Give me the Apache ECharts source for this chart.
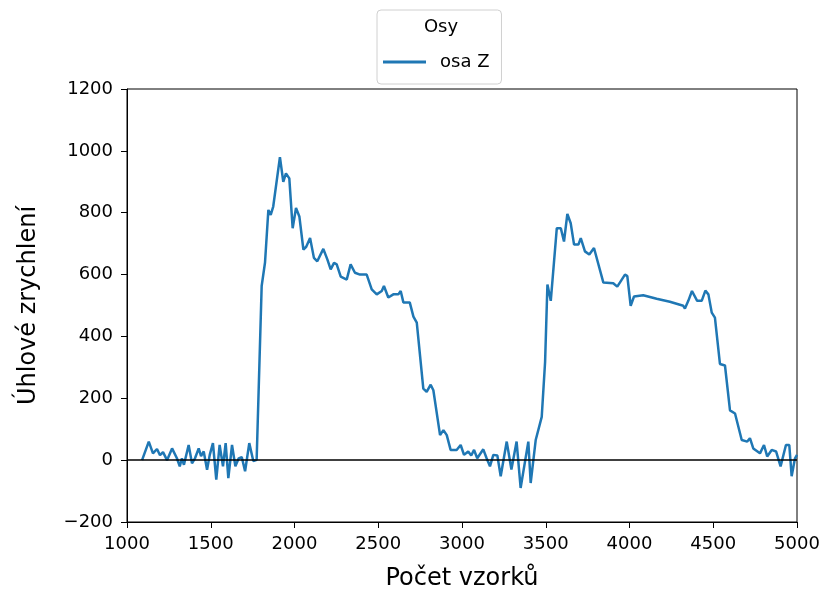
<!DOCTYPE html>
<html>
<head>
<meta charset="utf-8">
<script src="https://cdn.jsdelivr.net/npm/echarts@6/dist/echarts.min.js"></script>
<style>html,body{margin:0;padding:0;background:#fff}#c{width:824px;height:596px}</style>
</head>
<body>
<div id="c"></div>
<script>
const xValues = [1090,1130,1155,1179,1197,1215,1239,1269,1298,1315,1328,1340,1368,1388,1406,1428,1442,1458,1478,1494,1513,1533,1553,1573,1589,1605,1627,1647,1667,1685,1705,1730,1754,1774,1804,1824,1844,1858,1873,1913,1933,1949,1969,1989,2009,2029,2053,2070,2093,2116,2136,2172,2196,2216,2236,2252,2276,2312,2335,2361,2391,2431,2461,2491,2521,2534,2560,2590,2620,2634,2650,2688,2710,2730,2769,2789,2813,2829,2869,2889,2909,2932,2968,2992,3012,3037,3055,3072,3091,3127,3147,3167,3187,3211,3231,3267,3295,3326,3350,3396,3410,3440,3476,3496,3510,3530,3566,3590,3609,3629,3649,3669,3695,3709,3734,3760,3788,3844,3903,3927,3973,3987,4007,4027,4082,4162,4241,4321,4331,4351,4373,4404,4431,4453,4471,4491,4510,4540,4570,4600,4630,4670,4703,4719,4739,4779,4803,4822,4849,4875,4902,4934,4954,4968,4988,5000];
const osaZ = [0,60,22,36,16,26,0,38,6,-20,6,-15,49,-10,6,38,13,28,-31,17,55,-63,49,-20,55,-58,49,-20,6,10,-36,55,-3,1,563,639,809,793,820,980,900,927,911,750,815,788,681,690,718,654,643,683,649,617,638,633,593,584,633,606,600,600,552,536,547,563,526,536,536,547,510,510,464,445,231,221,244,226,81,97,81,33,33,49,17,28,15,33,6,35,6,-20,17,15,-52,60,-30,60,-90,60,-74,65,140,317,568,515,750,750,707,796,766,697,697,718,675,665,686,574,572,561,600,595,499,529,533,522,512,499,490,515,547,515,515,548,536,477,461,311,306,161,151,65,60,71,38,22,49,12,33,28,-20,49,49,-52,6,17];
const xTicks = [1000,1500,2000,2500,3000,3500,4000,4500,5000];
const yTicks = [-200,0,200,400,600,800,1000,1200];
const seriesName = 'osa Z';
const legendTitle = 'Osy';
const xLabel = 'Počet vzorků';
const yLabel = 'Úhlové zrychlení';

const FONT = 'DejaVu Sans';
const chart = echarts.init(document.getElementById('c'), null, {renderer:'canvas'});
chart.setOption({
  animation:false,
  backgroundColor:'#fff',
  grid:{left:127,right:27,top:89,bottom:71,show:true,borderColor:'#000',borderWidth:1,backgroundColor:'transparent'},
  legend:{
    data:[{name:seriesName,icon:'rect'}],left:377,top:10,
    padding:[43,12,13,6],
    itemWidth:43,itemHeight:3,
    borderColor:'#d0d0d0',borderWidth:1,borderRadius:4,
    selectedMode:false,
    textStyle:{fontFamily:FONT,fontSize:18,color:'#000',padding:[0,0,0,9]}
  },
  graphic:[{type:'text',x:441,y:27,style:{text:legendTitle,fontFamily:FONT,fontSize:18,fill:'#000',textAlign:'center',textVerticalAlign:'middle'}}],
  xAxis:{
    type:'value',min:xTicks[0],max:xTicks[xTicks.length-1],interval:500,
    name:xLabel,nameLocation:'middle',nameGap:45,
    nameTextStyle:{fontFamily:FONT,fontSize:24,color:'#000'},
    axisLine:{show:true,onZero:false,lineStyle:{color:'#000',width:1}},
    axisTick:{show:true,length:6,lineStyle:{color:'#000'}},
    axisLabel:{fontFamily:FONT,fontSize:18,color:'#000',margin:13,showMinLabel:true,showMaxLabel:true,formatter:v=>String(v)},
    splitLine:{show:false}
  },
  yAxis:{
    type:'value',min:yTicks[0],max:yTicks[yTicks.length-1],interval:200,
    name:yLabel,nameLocation:'middle',nameGap:86,
    nameTextStyle:{fontFamily:FONT,fontSize:24,color:'#000'},
    axisLine:{show:true,onZero:false,lineStyle:{color:'#000',width:1}},
    axisTick:{show:true,length:6,lineStyle:{color:'#000'}},
    axisLabel:{fontFamily:FONT,fontSize:18,color:'#000',margin:14,formatter:v=>v<0?'\u2212'+Math.abs(v):String(v)},
    splitLine:{show:false}
  },
  series:[{
    name:seriesName,type:'line',
    data:xValues.map((x,i)=>[x,osaZ[i]]),
    showSymbol:false,symbol:'none',
    lineStyle:{color:'#1f77b4',width:2.5},
    itemStyle:{color:'#1f77b4'},
    clip:true,
    markLine:{silent:true,symbol:'none',label:{show:false},lineStyle:{color:'#000',width:1.5,type:'solid'},data:[{yAxis:0}],animation:false}
  }]
});
</script>
</body>
</html>
